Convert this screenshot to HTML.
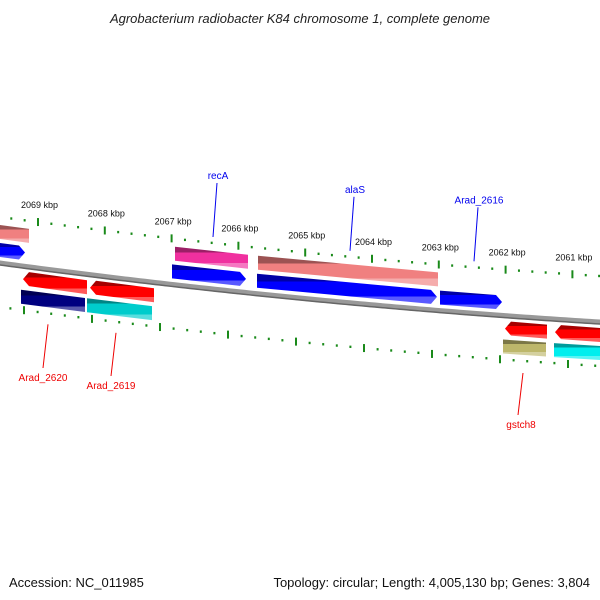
<!DOCTYPE html>
<html><head><meta charset="utf-8"><style>
body{margin:0;background:#fff;}
svg{display:block;font-family:"Liberation Sans",sans-serif;}
</style></head><body>
<svg id="map" width="600" height="600" viewBox="0 0 600 600">
<defs id="defs"></defs>
<text x="300" y="23" text-anchor="middle" font-size="13" font-style="italic" fill="#222">Agrobacterium radiobacter K84 chromosome 1, complete genome</text>
<g id="ticks"></g>
<g id="backbone"></g>
<g id="features"></g>
<g id="labels"></g>
<text x="9" y="587" font-size="13" fill="#111">Accession: NC_011985</text>
<text x="590" y="587" text-anchor="end" font-size="13" fill="#111">Topology: circular; Length: 4,005,130 bp; Genes: 3,804</text>
</svg>
<script>
// data
const tickLabels = ["2069 kbp","2068 kbp","2067 kbp","2066 kbp","2065 kbp","2064 kbp","2063 kbp","2062 kbp","2061 kbp"];
const featStart = [0, 0, 175, 172, 258, 257, 440, 23, 90, 21, 87, 505, 555, 503, 554];
const featEnd   = [29, 19, 248, 240, 438, 431, 496, 87, 154, 85, 152, 547, 600, 546, 600];
const featRow   = [-2, -1, -2, -1, -2, -1, -1, 1, 1, 2, 2, 1, 1, 2, 2];
const featShape = ["bar","right","bar","right","bar","right","right","left","left","bar","bar","left","left","bar","bar"];
const featColor = ["#f08080","#0000ff","#f0309f","#0000ff","#f08080","#0000ff","#0000ff","#ff0000","#ff0000","#000080","#00cccc","#ff0000","#ff0000","#bdb76b","#00eeee"];
const geneNames = ["recA","alaS","Arad_2616","Arad_2620","Arad_2619","gstch8"];
const geneX     = [213, 350, 474, 48, 116, 523];
const geneSide  = [-1, -1, -1, 1, 1, 1];

const NS="http://www.w3.org/2000/svg";
function bb(x){return 263+0.135*x-0.000061*x*x;}
function mk(tag,attrs,parent){const e=document.createElementNS(NS,tag);for(const k in attrs)e.setAttribute(k,attrs[k]);parent.appendChild(e);return e;}
const defs=document.getElementById('defs');
function shade(hex,f){let n=parseInt(hex.slice(1),16);let r=n>>16,g=(n>>8)&255,b=n&255;
 if(f<0){r*=1+f;g*=1+f;b*=1+f;}else{r+=(255-r)*f;g+=(255-g)*f;b+=(255-b)*f;}
 return "rgb("+Math.round(r)+","+Math.round(g)+","+Math.round(b)+")";}

// backbone
const bbG=document.getElementById('backbone');
let d="";for(let x=-5;x<=605;x+=5)d+=(x==-5?"M":"L")+x+","+bb(x).toFixed(2);
const b1=mk('path',{d:d,stroke:"#999",'stroke-width':5,fill:"none"},bbG);


let d2="";for(let x=-5;x<=605;x+=5)d2+=(x==-5?"M":"L")+x+","+(bb(x)+2).toFixed(2);
mk('path',{d:d2,stroke:"#666",'stroke-width':1.5,fill:"none"},bbG);

// ticks
const tG=document.getElementById('ticks');
function tickRow(x0,step,off,withLabels){
 for(let i=-1;i<10;i++){
  for(let j=0;j<5;j++){
   const x=x0+i*step+j*step/5; if(x<0||x>600)continue;
   const y=bb(x)+off;
   const t=mk('line',{x1:x,x2:x,y1:y-(j==0?4:1.2),y2:y+(j==0?4:1.2),stroke:"#1a8a1a",'stroke-width':2},tG);
   
   
  }
  if(withLabels&&i>=0&&i<tickLabels.length){
   const x=x0+i*step;
   const l=mk('text',{x:x-17,y:bb(x)+off-14,'font-size':9,fill:"#111"},tG);
   l.textContent=tickLabels[i];
   
   
  }
 }
}
tickRow(38,66.8,-46,true);
tickRow(24,68,44,false);

// features
const fG=document.getElementById('features');
const H=14;
featStart.forEach((s,i)=>{
 const e=featEnd[i], off=featRow[i]<0?(featRow[i]==-2?-31:-13):(featRow[i]==1?13:31);
 const c=featColor[i], id='g'+i;
 const gr=mk('linearGradient',{id:id,x1:0,y1:0,x2:0,y2:1},defs);
 mk('stop',{offset:"0",'stop-color':shade(c,-0.35)},gr);
 mk('stop',{offset:"0.25",'stop-color':shade(c,-0.35)},gr);
 mk('stop',{offset:"0.25",'stop-color':c},gr);
 mk('stop',{offset:"0.75",'stop-color':c},gr);
 mk('stop',{offset:"0.75",'stop-color':shade(c,0.35)},gr);
 mk('stop',{offset:"1",'stop-color':shade(c,0.35)},gr);
 const ys=bb(s)+off, ye=bb(e)+off, h=H/2, tip=6;
 let pts;
 if(featShape[i]=="right") pts=[[s,ys-h],[e,ye-h],[e+tip,ye],[e,ye+h],[s,ys+h]];
 else if(featShape[i]=="left") pts=[[s+tip,ys-h],[e,ye-h],[e,ye+h],[s+tip,ys+h],[s,ys]];
 else pts=[[s,ys-h],[e,ye-h],[e,ye+h],[s,ys+h]];
 const p=mk('polygon',{points:pts.map(q=>q[0]+","+q[1].toFixed(1)).join(" "),fill:"url(#"+id+")"},fG);
 
 
});

// labels
const lG=document.getElementById('labels');
geneNames.forEach((n,i)=>{
 const x=geneX[i], side=geneSide[i], col=side<0?"#0000ee":"#ee0000";
 let y1,y2,ty,tx;
 if(side<0){y1=bb(x)-52;y2=bb(x)-106;ty=y2-4;tx=x+5;}
 else{y1=bb(x)+55;y2=bb(x)+96+(i==5?0:0);ty=y2+11;tx=x-5;}
 if(i==5){y1=373;y2=415;ty=428;tx=x-2;}
 if(i==3){y2=368;ty=381;}
 if(i==4){y2=376;ty=389;}
 const ln=mk('line',{x1:x,y1:y1,x2:x+(side<0?4:-5),y2:y2,stroke:col,'stroke-width':1},lG);
 
 
 const t=mk('text',{x:tx,y:ty,'text-anchor':"middle",'font-size':10,fill:col},lG);
 t.textContent=n;
 
 
});
</script>
</body></html>
